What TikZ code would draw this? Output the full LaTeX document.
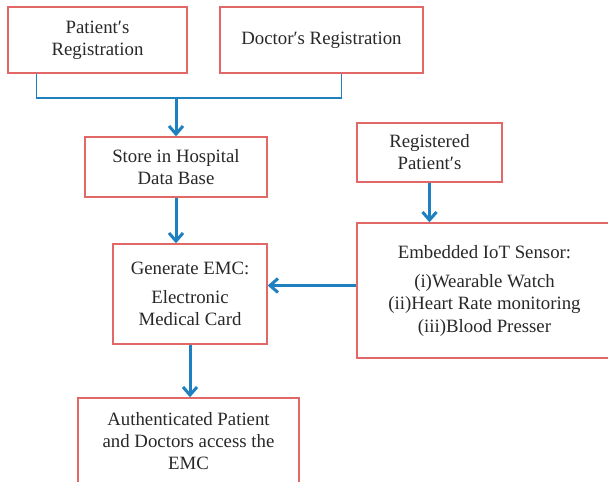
\documentclass[tikz,border=0pt]{standalone}
\usepackage{fontspec}
\setmainfont{Liberation Serif}
\newfontfamily\boxfont{Liberation Serif}
\usetikzlibrary{arrows.meta}
\definecolor{boxred}{RGB}{226,104,104}
\definecolor{flowblue}{RGB}{30,128,192}
\definecolor{ink}{RGB}{40,40,40}

\begin{document}
\begin{tikzpicture}[x=1pt,y=-1pt,
  box/.style={draw=boxred, line width=1.4pt, fill=white, align=center,
    text=ink, font=\boxfont\fontsize{18.8}{22}\selectfont, inner sep=0pt},
  link/.style={draw=flowblue, line width=1.2pt},
  flow/.style={draw=flowblue, line width=3pt,
    -{Straight Barb[length=8pt,width=14pt]}}]
\useasboundingbox (0,0) rectangle (608,482);
\clip (0,0) rectangle (608,482);
\fill[white] (0,0) rectangle (608,482);

% boxes
\node[box, minimum width=179pt, minimum height=66pt] (pat) at (97.5,40)
  {Patient′s\\Registration};
\node[box, minimum width=203pt, minimum height=66pt] (doc) at (321.5,40)
  {Doctor′s Registration};
\node[box, minimum width=182pt, minimum height=60pt] (store) at (176,167)
  {Store in Hospital\\Data Base};
\node[box, minimum width=145pt, minimum height=59pt] (reg) at (429.5,152.5)
  {Registered\\Patient′s};
\node[box, minimum width=154pt, minimum height=100pt] (gen) at (190,294)
  {Generate EMC:\\[7pt]Electronic\\Medical Card};
\node[box, minimum width=255pt, minimum height=135pt] (emb) at (484.5,290.5)
  {Embedded IoT Sensor:\\[7pt](i)Wearable Watch\\(ii)Heart Rate monitoring\\[1pt](iii)Blood Presser};
\node[box, minimum width=221pt, minimum height=86pt] (auth) at (188.5,441)
  {Authenticated Patient\\and Doctors access the\\EMC};

% connectors
\coordinate (j) at (176,98);
\draw[link] ([xshift=29pt]pat.south west) |- (j) -| ([xshift=122pt]doc.south west);
\draw[flow] (j) -- (store.north);
\draw[flow] (store.south) -- (store.south |- gen.north);
\draw[flow] (gen.south) -- (gen.south |- auth.north);
\draw[flow] (reg.south) -- (reg.south |- emb.north);
\draw[flow] ([yshift=5pt]emb.west) -- ([yshift=5pt]emb.west -| gen.east);
\end{tikzpicture}
\end{document}
